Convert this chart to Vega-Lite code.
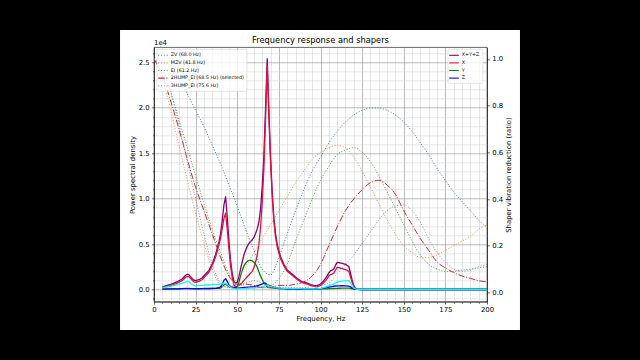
{
"$schema": "https://vega.github.io/schema/vega-lite/v6.json",
"autosize": {"type": "none"},
"width": 333,
"height": 254.4,
"padding": {"left": 154, "top": 47.3, "right": 153, "bottom": 58.3},
"background": "white",
"datasets": {
"psd": [
{"f":5,"S":300,"X":200,"Y":50,"Z":50,"A":200},
{"f":8,"S":460,"X":350,"Y":50,"Z":60,"A":300},
{"f":11,"S":630,"X":500,"Y":60,"Z":70,"A":400},
{"f":14,"S":860,"X":700,"Y":80,"Z":80,"A":550},
{"f":17,"S":1190,"X":1000,"Y":100,"Z":90,"A":700},
{"f":19,"S":1570,"X":1350,"Y":120,"Z":100,"A":850},
{"f":20,"S":1680,"X":1450,"Y":130,"Z":100,"A":900},
{"f":21,"S":1620,"X":1400,"Y":120,"Z":100,"A":850},
{"f":22,"S":1400,"X":1200,"Y":100,"Z":100,"A":700},
{"f":23,"S":1190,"X":1000,"Y":90,"Z":100,"A":550},
{"f":24,"S":1030,"X":850,"Y":80,"Z":100,"A":450},
{"f":25,"S":980,"X":800,"Y":80,"Z":100,"A":400},
{"f":27,"S":1080,"X":900,"Y":80,"Z":100,"A":420},
{"f":29,"S":1290,"X":1100,"Y":90,"Z":100,"A":450},
{"f":31,"S":1710,"X":1500,"Y":100,"Z":110,"A":500},
{"f":33,"S":2110,"X":1900,"Y":100,"Z":110,"A":500},
{"f":35,"S":2830,"X":2600,"Y":110,"Z":120,"A":550},
{"f":37,"S":3850,"X":3600,"Y":120,"Z":130,"A":550},
{"f":39,"S":5240,"X":4900,"Y":140,"Z":200,"A":600},
{"f":40,"S":6160,"X":5700,"Y":160,"Z":300,"A":600},
{"f":41,"S":7600,"X":6700,"Y":300,"Z":600,"A":650},
{"f":42,"S":9300,"X":7800,"Y":500,"Z":1000,"A":700},
{"f":43,"S":10200,"X":8400,"Y":600,"Z":1200,"A":700},
{"f":44,"S":7950,"X":6600,"Y":450,"Z":900,"A":550},
{"f":45,"S":5300,"X":4500,"Y":300,"Z":500,"A":400},
{"f":46,"S":3150,"X":2600,"Y":250,"Z":300,"A":250},
{"f":47,"S":1750,"X":1300,"Y":200,"Z":250,"A":150},
{"f":48,"S":900,"X":500,"Y":200,"Z":200,"A":100},
{"f":49,"S":700,"X":300,"Y":250,"Z":150,"A":80},
{"f":50,"S":800,"X":350,"Y":300,"Z":150,"A":80},
{"f":51,"S":1410,"X":450,"Y":800,"Z":160,"A":80},
{"f":52,"S":2280,"X":600,"Y":1500,"Z":180,"A":90},
{"f":53,"S":3050,"X":750,"Y":2100,"Z":200,"A":100},
{"f":54,"S":3800,"X":1000,"Y":2600,"Z":200,"A":100},
{"f":55,"S":4320,"X":1200,"Y":2900,"Z":220,"A":120},
{"f":56,"S":4740,"X":1400,"Y":3100,"Z":240,"A":130},
{"f":57,"S":5060,"X":1600,"Y":3200,"Z":260,"A":140},
{"f":58,"S":5280,"X":1800,"Y":3200,"Z":280,"A":150},
{"f":59,"S":5450,"X":2000,"Y":3150,"Z":300,"A":160},
{"f":60,"S":5730,"X":2400,"Y":3000,"Z":330,"A":170},
{"f":61,"S":6170,"X":3000,"Y":2800,"Z":370,"A":180},
{"f":62,"S":6670,"X":3800,"Y":2450,"Z":420,"A":200},
{"f":63,"S":7430,"X":5000,"Y":1950,"Z":480,"A":220},
{"f":64,"S":8850,"X":6800,"Y":1500,"Z":550,"A":250},
{"f":65,"S":11320,"X":9600,"Y":1100,"Z":620,"A":300},
{"f":66,"S":14730,"X":13300,"Y":750,"Z":680,"A":350},
{"f":67,"S":20000,"X":18800,"Y":500,"Z":700,"A":450},
{"f":68,"S":25400,"X":24600,"Y":300,"Z":500,"A":500},
{"f":69,"S":19700,"X":19000,"Y":250,"Z":450,"A":400},
{"f":70,"S":14600,"X":14000,"Y":200,"Z":400,"A":350},
{"f":71,"S":10710,"X":10200,"Y":180,"Z":330,"A":300},
{"f":72,"S":7900,"X":7500,"Y":150,"Z":250,"A":250},
{"f":73,"S":6130,"X":5800,"Y":130,"Z":200,"A":200},
{"f":74,"S":4980,"X":4700,"Y":120,"Z":160,"A":180},
{"f":75,"S":4240,"X":4000,"Y":110,"Z":130,"A":160},
{"f":76,"S":3610,"X":3400,"Y":100,"Z":110,"A":150},
{"f":78,"S":2780,"X":2600,"Y":90,"Z":90,"A":140},
{"f":80,"S":2160,"X":2000,"Y":80,"Z":80,"A":130},
{"f":82,"S":1840,"X":1700,"Y":70,"Z":70,"A":120},
{"f":84,"S":1530,"X":1400,"Y":70,"Z":60,"A":110},
{"f":86,"S":1220,"X":1100,"Y":60,"Z":60,"A":100},
{"f":88,"S":960,"X":850,"Y":60,"Z":50,"A":90},
{"f":90,"S":800,"X":700,"Y":50,"Z":50,"A":80},
{"f":92,"S":700,"X":600,"Y":50,"Z":50,"A":80},
{"f":94,"S":550,"X":450,"Y":50,"Z":50,"A":70},
{"f":96,"S":460,"X":350,"Y":50,"Z":60,"A":70},
{"f":98,"S":430,"X":300,"Y":50,"Z":80,"A":80},
{"f":100,"S":610,"X":450,"Y":60,"Z":100,"A":120},
{"f":102,"S":970,"X":750,"Y":70,"Z":150,"A":200},
{"f":104,"S":1500,"X":1200,"Y":80,"Z":220,"A":350},
{"f":105,"S":1850,"X":1500,"Y":90,"Z":260,"A":420},
{"f":106,"S":2050,"X":1650,"Y":100,"Z":300,"A":500},
{"f":107,"S":2130,"X":1700,"Y":100,"Z":330,"A":550},
{"f":108,"S":2270,"X":1800,"Y":110,"Z":360,"A":620},
{"f":109,"S":2660,"X":2150,"Y":120,"Z":390,"A":720},
{"f":110,"S":2980,"X":2450,"Y":130,"Z":400,"A":820},
{"f":111,"S":2950,"X":2400,"Y":140,"Z":410,"A":860},
{"f":113,"S":2870,"X":2300,"Y":150,"Z":420,"A":920},
{"f":115,"S":2770,"X":2200,"Y":160,"Z":410,"A":980},
{"f":117,"S":2530,"X":2000,"Y":150,"Z":380,"A":980},
{"f":118,"S":1820,"X":1400,"Y":120,"Z":300,"A":750},
{"f":119,"S":1060,"X":800,"Y":80,"Z":180,"A":450},
{"f":120,"S":420,"X":300,"Y":40,"Z":80,"A":180},
{"f":121,"S":150,"X":100,"Y":20,"Z":30,"A":60},
{"f":122,"S":40,"X":20,"Y":10,"Z":10,"A":20},
{"f":125,"S":0,"X":0,"Y":0,"Z":0,"A":0},
{"f":200,"S":0,"X":0,"Y":0,"Z":0,"A":0}
],
"shapers": [
{"f":0,"ZV":1,"MZV":1,"EI":1,"H2":1,"H3":1},
{"f":5,"ZV":0.99,"MZV":0.92,"EI":0.95,"H2":0.93,"H3":0.96},
{"f":10,"ZV":0.96,"MZV":0.78,"EI":0.86,"H2":0.82,"H3":0.86},
{"f":15,"ZV":0.91,"MZV":0.63,"EI":0.74,"H2":0.70,"H3":0.72},
{"f":20,"ZV":0.85,"MZV":0.48,"EI":0.62,"H2":0.57,"H3":0.56},
{"f":25,"ZV":0.78,"MZV":0.34,"EI":0.50,"H2":0.45,"H3":0.40},
{"f":30,"ZV":0.71,"MZV":0.21,"EI":0.38,"H2":0.35,"H3":0.25},
{"f":35,"ZV":0.63,"MZV":0.10,"EI":0.27,"H2":0.25,"H3":0.12},
{"f":40,"ZV":0.55,"MZV":0.03,"EI":0.17,"H2":0.15,"H3":0.04},
{"f":45,"ZV":0.46,"MZV":0.02,"EI":0.08,"H2":0.07,"H3":0.02},
{"f":50,"ZV":0.37,"MZV":0.06,"EI":0.03,"H2":0.035,"H3":0.03},
{"f":55,"ZV":0.27,"MZV":0.11,"EI":0.04,"H2":0.035,"H3":0.025},
{"f":60,"ZV":0.18,"MZV":0.17,"EI":0.05,"H2":0.03,"H3":0.02},
{"f":65,"ZV":0.10,"MZV":0.23,"EI":0.04,"H2":0.02,"H3":0.02},
{"f":70,"ZV":0.075,"MZV":0.29,"EI":0.03,"H2":0.02,"H3":0.02},
{"f":75,"ZV":0.15,"MZV":0.35,"EI":0.06,"H2":0.03,"H3":0.02},
{"f":80,"ZV":0.25,"MZV":0.41,"EI":0.12,"H2":0.03,"H3":0.02},
{"f":85,"ZV":0.35,"MZV":0.47,"EI":0.22,"H2":0.035,"H3":0.02},
{"f":90,"ZV":0.44,"MZV":0.52,"EI":0.31,"H2":0.045,"H3":0.02},
{"f":95,"ZV":0.52,"MZV":0.57,"EI":0.40,"H2":0.07,"H3":0.025},
{"f":100,"ZV":0.58,"MZV":0.60,"EI":0.48,"H2":0.12,"H3":0.03},
{"f":105,"ZV":0.64,"MZV":0.62,"EI":0.54,"H2":0.20,"H3":0.04},
{"f":110,"ZV":0.69,"MZV":0.63,"EI":0.59,"H2":0.28,"H3":0.08},
{"f":115,"ZV":0.73,"MZV":0.62,"EI":0.61,"H2":0.35,"H3":0.12},
{"f":120,"ZV":0.76,"MZV":0.58,"EI":0.62,"H2":0.40,"H3":0.16},
{"f":125,"ZV":0.78,"MZV":0.52,"EI":0.60,"H2":0.44,"H3":0.21},
{"f":130,"ZV":0.79,"MZV":0.45,"EI":0.56,"H2":0.47,"H3":0.26},
{"f":135,"ZV":0.79,"MZV":0.38,"EI":0.50,"H2":0.48,"H3":0.31},
{"f":140,"ZV":0.78,"MZV":0.31,"EI":0.43,"H2":0.46,"H3":0.35},
{"f":145,"ZV":0.76,"MZV":0.25,"EI":0.36,"H2":0.42,"H3":0.37},
{"f":150,"ZV":0.73,"MZV":0.20,"EI":0.29,"H2":0.35,"H3":0.375},
{"f":155,"ZV":0.69,"MZV":0.17,"EI":0.22,"H2":0.29,"H3":0.35},
{"f":160,"ZV":0.64,"MZV":0.15,"EI":0.16,"H2":0.23,"H3":0.30},
{"f":165,"ZV":0.59,"MZV":0.15,"EI":0.12,"H2":0.18,"H3":0.23},
{"f":170,"ZV":0.53,"MZV":0.16,"EI":0.10,"H2":0.13,"H3":0.17},
{"f":175,"ZV":0.48,"MZV":0.18,"EI":0.09,"H2":0.105,"H3":0.13},
{"f":180,"ZV":0.43,"MZV":0.20,"EI":0.09,"H2":0.085,"H3":0.10},
{"f":185,"ZV":0.39,"MZV":0.22,"EI":0.095,"H2":0.07,"H3":0.09},
{"f":190,"ZV":0.35,"MZV":0.24,"EI":0.10,"H2":0.06,"H3":0.095},
{"f":195,"ZV":0.31,"MZV":0.27,"EI":0.105,"H2":0.05,"H3":0.11},
{"f":200,"ZV":0.28,"MZV":0.29,"EI":0.11,"H2":0.045,"H3":0.12}
]
},
"layer": [
{
"layer": [
{
"data": {"name": "psd"},
"transform": [{"fold": ["S", "X", "Y", "Z", "A"], "as": ["axis", "psd"]}],
"mark": {"type": "line", "strokeWidth": 1.3, "strokeJoin": "round"},
"encoding": {
"x": {"field": "f", "type": "quantitative", "title": "Frequency, Hz",
"scale": {"domain": [0, 200], "nice": false, "zero": false},
"axis": {"orient": "bottom", "values": [0, 25, 50, 75, 100, 125, 150, 175, 200], "grid": true, "gridColor": "#808080", "tickSize": 2.4, "labelFlush": false}},
"y": {"field": "psd", "type": "quantitative", "title": "Power spectral density",
"scale": {"domain": [-1340, 26650], "nice": false, "zero": false},
"axis": {"orient": "left", "values": [0, 5000, 10000, 15000, 20000, 25000], "labelExpr": "format(datum.value / 10000, '.1f')", "grid": true, "gridColor": "#808080", "tickSize": 2.4}},
"color": {"field": "axis", "type": "nominal",
"scale": {"domain": ["S", "X", "Y", "Z", "A"], "range": ["#800080", "#dc143c", "#008000", "#0000ff", "#00ffff"]},
"legend": {"values": ["S", "X", "Y", "Z"], "title": null, "orient": "none", "legendX": 294, "legendY": 2, "labelExpr": "datum.value === 'S' ? 'X+Y+Z' : datum.value"}}
}
},
{
"data": {"values": [{}]},
"mark": {"type": "text", "text": "1e4", "align": "left", "baseline": "bottom", "dy": -1, "font": "DejaVu Sans", "fontSize": 6.9, "color": "black"},
"encoding": {
"x": {"datum": 0, "axis": {"orient": "bottom", "values": [5,10,15,20,30,35,40,45,55,60,65,70,80,85,90,95,105,110,115,120,130,135,140,145,155,160,165,170,180,185,190,195], "labels": false, "domain": false, "title": null, "grid": true, "gridColor": "#d3d3d3", "tickSize": 1.4}},
"y": {"datum": 26650, "axis": {"orient": "left", "values": [-1000,1000,2000,3000,4000,6000,7000,8000,9000,11000,12000,13000,14000,16000,17000,18000,19000,21000,22000,23000,24000,26000], "labels": false, "domain": false, "title": null, "grid": true, "gridColor": "#d3d3d3", "tickSize": 1.4}}
}
},
{
"data": {"values": [{}]},
"mark": {"type": "text", "text": "Frequency response and shapers", "align": "center", "baseline": "alphabetic", "dy": -4.5, "font": "DejaVu Sans", "fontSize": 8.3, "color": "black"},
"encoding": {"x": {"datum": 100, "axis": null}, "y": {"datum": 26650, "axis": null}}
},
{
"data": {"values": [{}]},
"mark": {"type": "rect", "color": "black"},
"encoding": {"x": {"datum": -200, "axis": null}, "x2": {"datum": -20.4}, "y": {"datum": 60000, "axis": null}, "y2": {"datum": -60000}}
},
{
"data": {"values": [{}]},
"mark": {"type": "rect", "color": "black"},
"encoding": {"x": {"datum": 219.8, "axis": null}, "x2": {"datum": 400}, "y": {"datum": 60000, "axis": null}, "y2": {"datum": -60000}}
},
{
"data": {"values": [{}]},
"mark": {"type": "rect", "color": "black"},
"encoding": {"x": {"datum": -200, "axis": null}, "x2": {"datum": 400}, "y": {"datum": 60000, "axis": null}, "y2": {"datum": 28553}}
},
{
"data": {"values": [{}]},
"mark": {"type": "rect", "color": "black"},
"encoding": {"x": {"datum": -200, "axis": null}, "x2": {"datum": 400}, "y": {"datum": -4455, "axis": null}, "y2": {"datum": -60000}}
}
],
"resolve": {"axis": {"x": "independent", "y": "independent"}}
},
{
"data": {"name": "shapers"},
"transform": [{"fold": ["ZV", "MZV", "EI", "H2", "H3"], "as": ["shaper", "r"]}],
"mark": {"type": "line", "strokeWidth": 1.0, "interpolate": "monotone"},
"encoding": {
"x": {"field": "f", "type": "quantitative", "axis": null},
"y": {"field": "r", "type": "quantitative", "title": "Shaper vibration reduction (ratio)",
"scale": {"domain": [-0.04, 1.05], "nice": false, "zero": false},
"axis": {"orient": "right", "values": [0, 0.2, 0.4, 0.6, 0.8, 1], "format": ".1f", "grid": false, "titleAngle": 270, "titleBaseline": "top", "tickSize": 2.4, "titlePadding": 2.8}},
"color": {"field": "shaper", "type": "nominal",
"scale": {"domain": ["ZV", "MZV", "EI", "H2", "H3"], "range": ["#3f7fae", "#f39043", "#48a048", "#c42a3a", "#9a80b8"]},
"legend": {"title": null, "orient": "none", "legendX": 3, "legendY": 2,
"labelExpr": "datum.value === 'ZV' ? 'ZV (68.0 Hz)' : datum.value === 'MZV' ? 'MZV (41.8 Hz)' : datum.value === 'EI' ? 'EI (61.2 Hz)' : datum.value === 'H2' ? '2HUMP_EI (68.5 Hz) (selected)' : '3HUMP_EI (75.6 Hz)'"}},
"strokeDash": {"field": "shaper", "type": "nominal",
"scale": {"domain": ["ZV", "MZV", "EI", "H2", "H3"], "range": [[1, 1.8], [1, 1.8], [1, 1.8], [6.5, 1.7, 1, 1.7], [1, 1.8]]},
"legend": {"title": null, "orient": "none", "legendX": 3, "legendY": 2,
"labelExpr": "datum.value === 'ZV' ? 'ZV (68.0 Hz)' : datum.value === 'MZV' ? 'MZV (41.8 Hz)' : datum.value === 'EI' ? 'EI (61.2 Hz)' : datum.value === 'H2' ? '2HUMP_EI (68.5 Hz) (selected)' : '3HUMP_EI (75.6 Hz)'"}}
}
}
],
"resolve": {"scale": {"y": "independent", "color": "independent", "strokeDash": "independent"}, "axis": {"x": "independent", "y": "independent"}},
"config": {
"view": {"stroke": "black", "strokeWidth": 0.6},
"axis": {"labelOverlap": false, "labelFont": "DejaVu Sans", "labelFontSize": 6.9, "labelColor": "black", "titleFont": "DejaVu Sans", "titleFontSize": 6.9, "titleFontWeight": "normal", "titleColor": "black", "domainColor": "black", "domainWidth": 0.6, "tickColor": "black", "tickWidth": 0.6, "tickSize": 2.4, "labelPadding": 2.4, "titlePadding": 2.8, "gridWidth": 0.55},
"legend": {"fillColor": "rgba(255,255,255,0.8)", "strokeColor": "#cccccc", "strokeWidth": 0.5, "cornerRadius": 1.5, "padding": 3, "labelFont": "DejaVu Sans", "labelFontSize": 4.8, "labelColor": "black", "rowPadding": 1.6, "symbolType": "M-2,0H2", "symbolSize": 23, "symbolStrokeWidth": 1.1, "labelOffset": 4.8, "titlePadding": 0}
}
}
